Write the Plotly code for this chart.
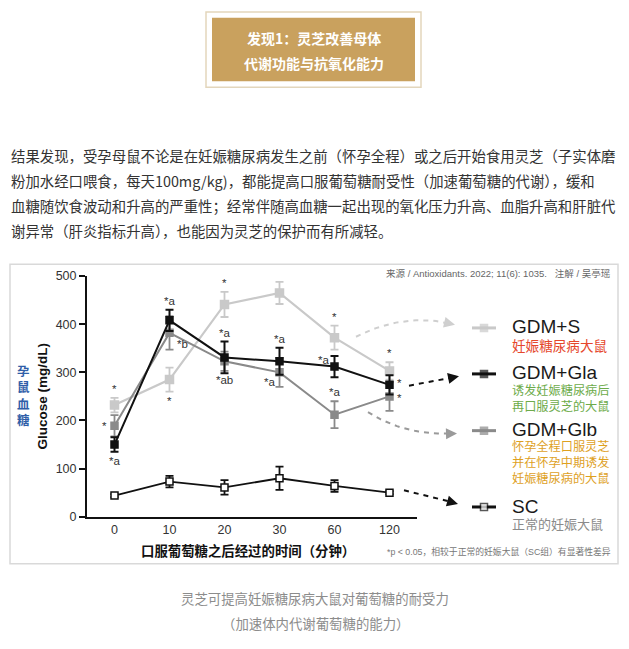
import plotly.graph_objects as go

W, H = 629, 649

# ---------------- data ----------------
times = ["0", "10", "20", "30", "60", "120"]
y_ticks = [0, 100, 200, 300, 400, 500]

s_mean = [232, 285, 441, 465, 372, 303]
s_err = [15, 25, 26, 23, 25, 18]
gla_mean = [150, 408, 331, 323, 312, 274]
gla_err = [15, 22, 33, 28, 22, 20]
glb_mean = [189, 382, 323, 300, 212, 250]
glb_err = [22, 35, 20, 30, 28, 30]
sc_mean = [44, 73, 61, 80, 64, 50]
sc_err = [3, 12, 15, 24, 12, 3]

s_marks = ["*", "*", "*", "", "*", "*"]
s_pos = ["up", "down", "up", "", "up", "up"]
gla_marks = ["*a", "*a", "*a", "*a", "*a", "*"]
gla_pos = ["down", "up", "up", "up", "upleft", "upright"]
glb_marks = ["*", "*b", "*ab", "*a", "*a", "*"]
glb_pos = ["left", "downright", "down", "downleft", "up", "lowright"]

series_names = ["GDM+S", "GDM+Gla", "GDM+Glb", "SC"]
series_notes = [
    ["妊娠糖尿病大鼠"],
    ["诱发妊娠糖尿病后", "再口服灵芝的大鼠"],
    ["怀孕全程口服灵芝", "并在怀孕中期诱发", "妊娠糖尿病的大鼠"],
    ["正常的妊娠大鼠"],
]

header_lines = ["发现1：灵芝改善母体", "代谢功能与抗氧化能力"]
para_lines = [
    "结果发现，受孕母鼠不论是在妊娠糖尿病发生之前（怀孕全程）或之后开始食用灵芝（子实体磨",
    "粉加水经口喂食，每天100mg/kg)，都能提高口服葡萄糖耐受性（加速葡萄糖的代谢），缓和",
    "血糖随饮食波动和升高的严重性；经常伴随高血糖一起出现的氧化压力升高、血脂升高和肝脏代",
    "谢异常（肝炎指标升高），也能因为灵芝的保护而有所减轻。",
]
caption_lines = ["灵芝可提高妊娠糖尿病大鼠对葡萄糖的耐受力", "（加速体内代谢葡萄糖的能力）"]
x_title = "口服葡萄糖之后经过的时间（分钟）"
y_title = "Glucose (mg/dL)"
y_title_cn = "孕鼠血糖"
source_text = "来源 / Antioxidants. 2022; 11(6): 1035.   注解 / 吴亭瑶"
foot_text = "*p < 0.05，相较于正常的妊娠大鼠（SC组）有显著性差异"

# ---------------- styles ----------------
C_S = "#c9c9c9"
C_GLA = "#111111"
C_GLB = "#8a8a8a"
C_SC = "#111111"
NOTE_COLORS = ["#e5472c", "#6dab4a", "#dea11f", "#8a8a8a"]
NOTE_SIZES = [13.6, 12.2, 12.2, 13]
LAT = "Liberation Sans, Arial, Noto Sans CJK SC"
CJK = "Noto Sans CJK SC, Liberation Sans"

fig = go.Figure()


def add_series(mean, err, color, lw, fill, width_err, msize):
    fig.add_trace(go.Scatter(
        x=times, y=mean, mode="lines+markers",
        line=dict(color=color, width=lw),
        marker=dict(symbol="square", size=msize, color=fill,
                    line=dict(color=color, width=1.5)),
        error_y=dict(type="data", array=err, visible=True,
                     color=color, thickness=width_err, width=4),
        showlegend=False, xaxis="x", yaxis="y", cliponaxis=False,
    ))


add_series(s_mean, s_err, C_S, 2.2, C_S, 1.8, 8)
add_series(glb_mean, glb_err, C_GLB, 2.0, C_GLB, 1.8, 7)
add_series(gla_mean, gla_err, C_GLA, 2.0, C_GLA, 2.0, 7)
add_series(sc_mean, sc_err, C_SC, 1.8, "white", 1.8, 7)

annotations = []

OFFS = {
    "left": (-10, 0), "right": (10, 0), "upleft": (-11, 7),
    "upright": (10, 2), "lowright": (10, -2),
    "downright": (13, -11), "downleft": (-10, -10),
}


def add_marks(mean, err, marks, pos):
    for i, (m, e, lab, p) in enumerate(zip(mean, err, marks, pos)):
        if not lab:
            continue
        if p == "up":
            y, xs, ys = m + e, 0, 9
        elif p == "down":
            y, xs, ys = m - e, 0, -9
        else:
            y = m
            xs, ys = OFFS[p]
        annotations.append(dict(
            x=i, y=y, xref="x", yref="y", text=lab, showarrow=False,
            xshift=xs, yshift=ys, font=dict(family=LAT, size=11.5, color="#333"),
        ))


add_marks(s_mean, s_err, s_marks, s_pos)
add_marks(gla_mean, gla_err, gla_marks, gla_pos)
add_marks(glb_mean, glb_err, glb_marks, glb_pos)

# ---------- decoration layer in pixel coordinates (x2/y2) ----------
def pix_ann(x, y, text, size, color, family=CJK, xanchor="center", bold=False, **kw):
    if bold:
        text = "<b>" + text + "</b>"
    d = dict(x=x, y=y, xref="x2", yref="y2", text=text, showarrow=False,
             xanchor=xanchor, yanchor="middle",
             font=dict(family=family, size=size, color=color))
    d.update(kw)
    annotations.append(d)


# header
for i, line in enumerate(header_lines):
    pix_ann(313.5, 32 + 25 * i, line, 14, "white", bold=True)
# paragraph
for i, line in enumerate(para_lines):
    pix_ann(9, 152 + 25.4 * i, line, 14.4, "#333333", xanchor="left")
# caption
for i, line in enumerate(caption_lines):
    pix_ann(315, 604 + 26 * i, line, 13.4, "#8c8c8c")

# axis titles
pix_ann(248, 555, x_title, 13.4, "#111", bold=True)
pix_ann(42, 398, y_title, 13.5, "#111", family=LAT, bold=True, textangle=-90)
pix_ann(23, 397, "<br>".join(list(y_title_cn)), 12.5, "#2f5ea8", bold=True)
pix_ann(613, 272, source_text, 9.5, "#666", family=LAT + ", Noto Sans CJK SC", xanchor="right")
pix_ann(613, 556, foot_text, 8.8, "#777", family=LAT + ", Noto Sans CJK SC", xanchor="right")

# legend
leg_y = [328, 375, 433, 511]
leg_colors = [C_S, C_GLA, C_GLB, C_SC]
leg_fill = [C_S, C_GLA, C_GLB, "white"]
note_y0 = [345, 392, 449, 528]
for name, note, ly, col, fl, ny, nc, ns in zip(series_names, series_notes, leg_y,
                                               leg_colors, leg_fill, note_y0,
                                               NOTE_COLORS, NOTE_SIZES):
    fig.add_trace(go.Scatter(
        x=[472, 484, 496], y=[ly, ly, ly], mode="lines+markers",
        line=dict(color=col, width=3),
        marker=dict(symbol="square", size=[0, 7, 0], color=fl,
                    line=dict(color=col, width=[0, 1.5, 0])),
        xaxis="x2", yaxis="y2", showlegend=False, hoverinfo="skip",
    ))
    pix_ann(510, ly - 1, name, 19, "#1a1a1a", family=LAT, xanchor="left")
    block_mid = ny + 15.6 * (len(note) - 1) / 2
    pix_ann(510, block_mid, "<br>".join(note), ns, nc, xanchor="left", align="left")


# dashed connectors
def bez(p0, p1, p2, n=24):
    xs, ys = [], []
    for k in range(n + 1):
        t = k / n
        xs.append((1 - t) ** 2 * p0[0] + 2 * (1 - t) * t * p1[0] + t ** 2 * p2[0])
        ys.append((1 - t) ** 2 * p0[1] + 2 * (1 - t) * t * p1[1] + t ** 2 * p2[1])
    return xs, ys


connectors = [
    (bez((356, 337), (404, 312), (452, 324)), "#cfcfcf"),
    (bez((409, 387), (432, 383), (456, 378)), "#111111"),
    (bez((368, 414), (404, 438), (454, 436)), "#9a9a9a"),
    (bez((404, 494), (430, 500), (455, 507)), "#111111"),
]
for (xs, ys), col in connectors:
    fig.add_trace(go.Scatter(
        x=xs, y=ys, mode="lines", line=dict(color=col, width=2, dash="5px,5px"),
        xaxis="x2", yaxis="y2", showlegend=False, hoverinfo="skip",
    ))
    annotations.append(dict(
        x=xs[-1] + 3, y=ys[-1] + (ys[-1] - ys[-2]) / max(abs(xs[-1] - xs[-2]), 1e-9) * 3,
        ax=xs[-2], ay=ys[-2], xref="x2", yref="y2", axref="x2", ayref="y2",
        text="", showarrow=True, arrowhead=2, arrowsize=1.1, arrowwidth=2,
        arrowcolor=col, standoff=0,
    ))

shapes = [
    # header box
    dict(type="rect", xref="x2", yref="y2", x0=206, y0=5, x1=421, y1=82,
         line=dict(color="#e3d6bc", width=1.5), fillcolor="white", layer="below"),
    dict(type="rect", xref="x2", yref="y2", x0=212, y0=11, x1=415, y1=76,
         line=dict(width=0), fillcolor="#c9a15e", layer="below"),
    # chart frame
    dict(type="rect", xref="x2", yref="y2", x0=10, y0=263, x1=618, y1=569,
         line=dict(color="#d9d9d9", width=1.5), fillcolor="rgba(0,0,0,0)", layer="below"),
]

fig.update_layout(
    width=W, height=H, margin=dict(l=0, r=0, t=0, b=0),
    paper_bgcolor="white", plot_bgcolor="rgba(0,0,0,0)",
    xaxis=dict(type="category", domain=[87 / W, 417 / W], range=[-0.5, 5.5],
               showline=True, linecolor="#111", linewidth=2, ticks="",
               showgrid=False, zeroline=False, anchor="y",
               tickfont=dict(family=LAT, size=12.5, color="#333")),
    yaxis=dict(domain=[1 - 521 / H, 1 - 275 / H], range=[0, 500],
               tickvals=y_ticks, showline=True, linecolor="#111", linewidth=2,
               ticks="outside", ticklen=6, tickwidth=1.5, tickcolor="#111",
               showgrid=False, zeroline=False, anchor="x",
               tickfont=dict(family=LAT, size=12.5, color="#333")),
    xaxis2=dict(domain=[0, 1], range=[0, W], visible=False, anchor="y2", fixedrange=True),
    yaxis2=dict(domain=[0, 1], range=[H, 0], visible=False, anchor="x2", fixedrange=True),
    annotations=annotations, shapes=shapes,
)

fig.write_html("out.html", config={"displayModeBar": False},
               post_script="document.body.style.margin='0px';document.body.style.overflow='hidden';")
